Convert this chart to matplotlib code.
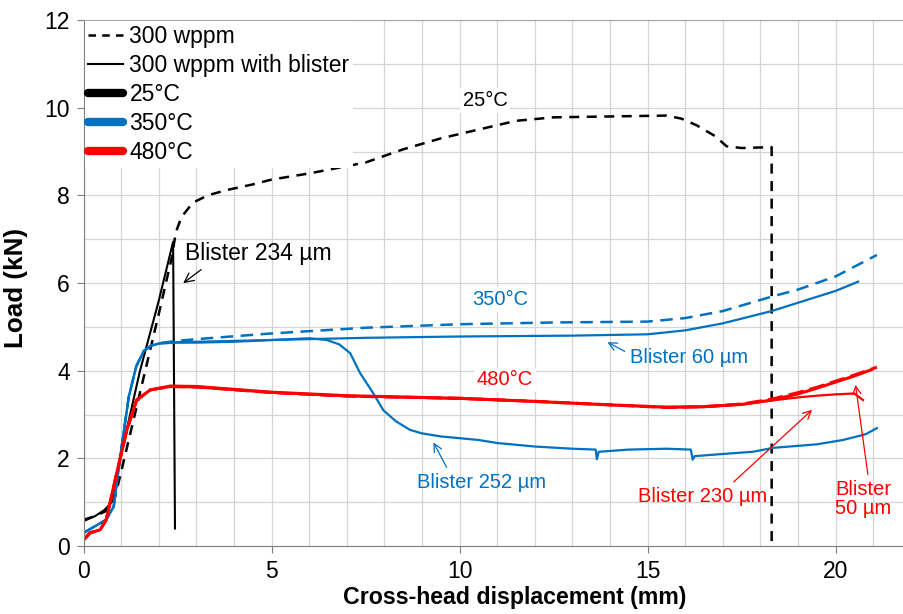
import matplotlib
matplotlib.use("Agg")
import matplotlib.pyplot as plt
from matplotlib import font_manager
from matplotlib.lines import Line2D

plt.rcParams["font.family"] = ["Liberation Sans", "DejaVu Sans"]

BLUE = "#0070C0"
RED = "#FF0000"

# 25 C, 300 wppm (dashed)
x_25 = [0.0, 0.3, 0.6, 0.8, 1.0, 1.5, 2.0, 2.35, 2.45, 2.6, 2.9, 3.3, 3.8, 4.5, 5.0, 6.0, 7.5,
        8.5, 9.5, 10.5, 11.5, 12.5, 14.0, 15.5, 15.9, 16.3, 16.8, 17.1, 17.5, 18.3, 18.3]
y_25 = [0.6, 0.68, 0.8, 1.0, 1.7, 3.5, 5.3, 6.6, 7.15, 7.5, 7.83, 8.0, 8.12, 8.25, 8.36, 8.5, 8.75,
        9.05, 9.3, 9.5, 9.7, 9.78, 9.8, 9.82, 9.75, 9.6, 9.35, 9.12, 9.08, 9.1, 0.0]

# 25 C, blister 234 um
x_25b = [0.0, 0.3, 0.55, 0.75, 1.0, 1.5, 2.0, 2.38, 2.43]
y_25b = [0.57, 0.68, 0.82, 1.0, 2.1, 4.0, 5.6, 6.94, 0.4]

# 350 C, 300 wppm (dashed)
x_350 = [0.0, 0.3, 0.6, 0.8, 1.0, 1.2, 1.4, 1.6, 1.8, 2.0, 2.5, 3.0, 5.0, 7.5, 10.0, 12.5,
         15.0, 16.0, 17.0, 18.3, 19.0, 20.0, 21.1]
y_350 = [0.3, 0.45, 0.6, 0.9, 2.2, 3.4, 4.1, 4.45, 4.58, 4.63, 4.68, 4.72, 4.85, 4.98, 5.06, 5.1,
         5.12, 5.2, 5.36, 5.69, 5.85, 6.15, 6.64]

# 350 C, blister 60 um
x_350a = [0.0, 0.3, 0.6, 0.8, 1.0, 1.2, 1.4, 1.6, 1.8, 2.0, 2.5, 3.0, 5.0, 7.5, 10.0, 13.0,
          15.0, 16.0, 17.0, 18.3, 19.0, 20.0, 20.6]
y_350a = [0.3, 0.45, 0.6, 0.9, 2.2, 3.4, 4.1, 4.45, 4.57, 4.62, 4.65, 4.66, 4.7, 4.75, 4.78, 4.8,
          4.83, 4.92, 5.08, 5.36, 5.55, 5.82, 6.03]

# 350 C, blister 252 um
x_350b = [0.0, 0.3, 0.6, 0.8, 1.0, 1.2, 1.4, 1.6, 1.8, 2.0, 2.5, 3.0, 4.0, 5.0, 6.0, 6.47,
          6.8, 7.09, 7.35, 7.7, 7.97, 8.3, 8.68, 9.0, 9.5, 10.5, 11.0, 12.0, 13.0, 13.62,
          13.65, 13.7, 14.5, 15.5, 16.15, 16.2, 16.25, 17.0, 17.8, 18.34, 19.5, 20.2, 20.8, 21.1]
y_350b = [0.3, 0.45, 0.6, 0.9, 2.2, 3.4, 4.1, 4.45, 4.57, 4.62, 4.64, 4.64, 4.66, 4.7, 4.74, 4.7,
          4.6, 4.4, 3.95, 3.49, 3.1, 2.85, 2.65, 2.57, 2.5, 2.42, 2.35, 2.27, 2.22, 2.2,
          1.98, 2.15, 2.2, 2.22, 2.2, 1.97, 2.05, 2.1, 2.15, 2.24, 2.32, 2.42, 2.55, 2.69]

# 480 C, 300 wppm (dashed)
x_480 = [0.0, 0.17, 0.44, 0.6, 0.88, 1.15, 1.41, 1.77, 2.3, 3.0, 5.0, 7.0, 10.0, 12.0, 14.0,
         15.5, 16.5, 17.5, 18.3, 19.0, 19.5, 20.0, 20.5, 21.1]
y_480 = [0.14, 0.3, 0.37, 0.6, 1.66, 2.65, 3.33, 3.56, 3.64, 3.63, 3.5, 3.42, 3.37, 3.3, 3.22,
         3.16, 3.18, 3.24, 3.35, 3.5, 3.62, 3.76, 3.9, 4.08]

# 480 C, blister 50 um
x_480a = [0.0, 0.17, 0.44, 0.6, 0.88, 1.15, 1.41, 1.77, 2.3, 3.0, 5.0, 7.0, 10.0, 12.0, 14.0,
          15.5, 16.5, 17.5, 18.3, 19.0, 19.5, 20.0, 20.5, 20.95]
y_480a = [0.14, 0.3, 0.37, 0.6, 1.66, 2.65, 3.33, 3.56, 3.65, 3.64, 3.51, 3.43, 3.37, 3.3, 3.22,
          3.17, 3.18, 3.23, 3.33, 3.47, 3.6, 3.74, 3.88, 4.02]

# 480 C, blister 230 um
x_480b = [0.0, 0.17, 0.44, 0.6, 0.88, 1.15, 1.41, 1.77, 2.3, 3.0, 5.0, 7.0, 10.0, 12.0, 14.0,
          15.5, 16.5, 17.5, 18.3, 19.0, 19.5, 20.0, 20.5, 20.73]
y_480b = [0.14, 0.3, 0.37, 0.6, 1.66, 2.65, 3.33, 3.56, 3.63, 3.62, 3.5, 3.42, 3.36, 3.3, 3.22,
          3.16, 3.17, 3.23, 3.32, 3.39, 3.43, 3.46, 3.48, 3.33]

x_ticks = [0, 5, 10, 15, 20]
y_ticks = [0, 2, 4, 6, 8, 10, 12]

# the axis titles look condensed in the original; use the narrow face when present
names = {f.name for f in font_manager.fontManager.ttflist}
if "Liberation Sans Narrow" in names:
    title_font, xlab_size = "Liberation Sans Narrow", 20
else:
    title_font, xlab_size = "Liberation Sans", 16.7

fig = plt.figure(figsize=(9.04, 6.14), dpi=100)
ax = fig.add_axes([0.0925, 0.1107, 0.9075, 0.8567])

ax.set_xlim(0, 21.82)
ax.set_ylim(0, 12)
ax.set_xticks(x_ticks)
ax.set_yticks(y_ticks)
ax.set_xticks(range(0, 22), minor=True)
ax.set_yticks(range(0, 13), minor=True)
ax.grid(which="both", color="#d4d4d4", linewidth=0.9)
ax.set_axisbelow(True)
ax.tick_params(which="minor", length=0)
ax.tick_params(which="major", direction="out", length=5, color="#7f7f7f", labelsize=16.5, pad=5)
for s in ["left", "bottom"]:
    ax.spines[s].set_color("#7f7f7f")
ax.spines["top"].set_color("#a6a6a6")
ax.spines["right"].set_visible(False)

ax.plot(x_25, y_25, color="black", lw=1.8, ls=(0, (4, 3)))
ax.plot(x_25b, y_25b, color="black", lw=1.5)
ax.plot(x_350, y_350, color=BLUE, lw=1.8, ls=(0, (5, 3)))
ax.plot(x_350a, y_350a, color=BLUE, lw=1.6)
ax.plot(x_350b, y_350b, color=BLUE, lw=1.6)
ax.plot(x_480, y_480, color=RED, lw=2.2, ls=(0, (5, 2)))
ax.plot(x_480a, y_480a, color=RED, lw=2.2)
ax.plot(x_480b, y_480b, color=RED, lw=1.6)

ax.set_xlabel("Cross-head displacement (mm)", fontsize=xlab_size, fontweight="bold",
              family=title_font, labelpad=1)
ax.xaxis.set_label_coords(0.526, -0.076)
ax.set_ylabel("Load (kN)", fontsize=xlab_size + 2, fontweight="bold", family=title_font)
ax.yaxis.set_label_coords(-0.068, 0.49)

white = dict(facecolor="white", edgecolor="none", pad=2)
ax.text(10.68, 10.16, "25°C", fontsize=14.5, ha="center", va="center", bbox=white)
ax.text(11.08, 5.62, "350°C", fontsize=14.5, ha="center", va="center", color=BLUE, bbox=white)
ax.text(11.2, 3.79, "480°C", fontsize=14.5, ha="center", va="center", color=RED, bbox=white)

arrow = dict(arrowstyle="->", lw=0.9)
ax.annotate("Blister 234 µm", xy=(2.59, 5.96), xytext=(2.7, 6.67), fontsize=16.5, va="center",
            ha="left", arrowprops=dict(arrow, color="black", relpos=(0.15, 0.0)))
ax.annotate("Blister 60 µm", xy=(13.87, 4.68), xytext=(14.53, 4.29), fontsize=14.5,
            va="center", ha="left", color=BLUE, arrowprops=dict(arrow, color=BLUE, relpos=(0, 0.7)))
ax.annotate("Blister 252 µm", xy=(9.27, 2.42), xytext=(8.87, 1.46), fontsize=14.5,
            va="center", ha="left", color=BLUE, arrowprops=dict(arrow, color=BLUE, relpos=(0.25, 1.0)))
ax.annotate("Blister 230 µm", xy=(19.43, 3.15), xytext=(14.75, 1.14), fontsize=14.5,
            va="center", ha="left", color=RED, arrowprops=dict(arrow, color=RED, relpos=(0.7, 1.0)))
ax.annotate("Blister\n50 µm", xy=(20.52, 3.74), xytext=(20.73, 1.07), fontsize=14.5,
            va="center", ha="center", color=RED, linespacing=1.0,
            arrowprops=dict(arrow, color=RED, relpos=(0.6, 1.0)))

handles = [
    Line2D([], [], color="black", lw=1.8, ls=(0, (3, 2.5))),
    Line2D([], [], color="black", lw=1.5),
    Line2D([], [], color="black", lw=6, solid_capstyle="round"),
    Line2D([], [], color=BLUE, lw=6, solid_capstyle="round"),
    Line2D([], [], color=RED, lw=6, solid_capstyle="round"),
]
labels = ["300 wppm", "300 wppm with blister", "25°C", "350°C", "480°C"]
leg = ax.legend(handles, labels, loc="upper left", fontsize=16.5, frameon=True, fancybox=False,
                framealpha=1, edgecolor="none", facecolor="white", borderaxespad=0.05,
                borderpad=0.15, handlelength=1.5, handletextpad=0.3, labelspacing=0.27)

fig.savefig("out.png", dpi=100)
